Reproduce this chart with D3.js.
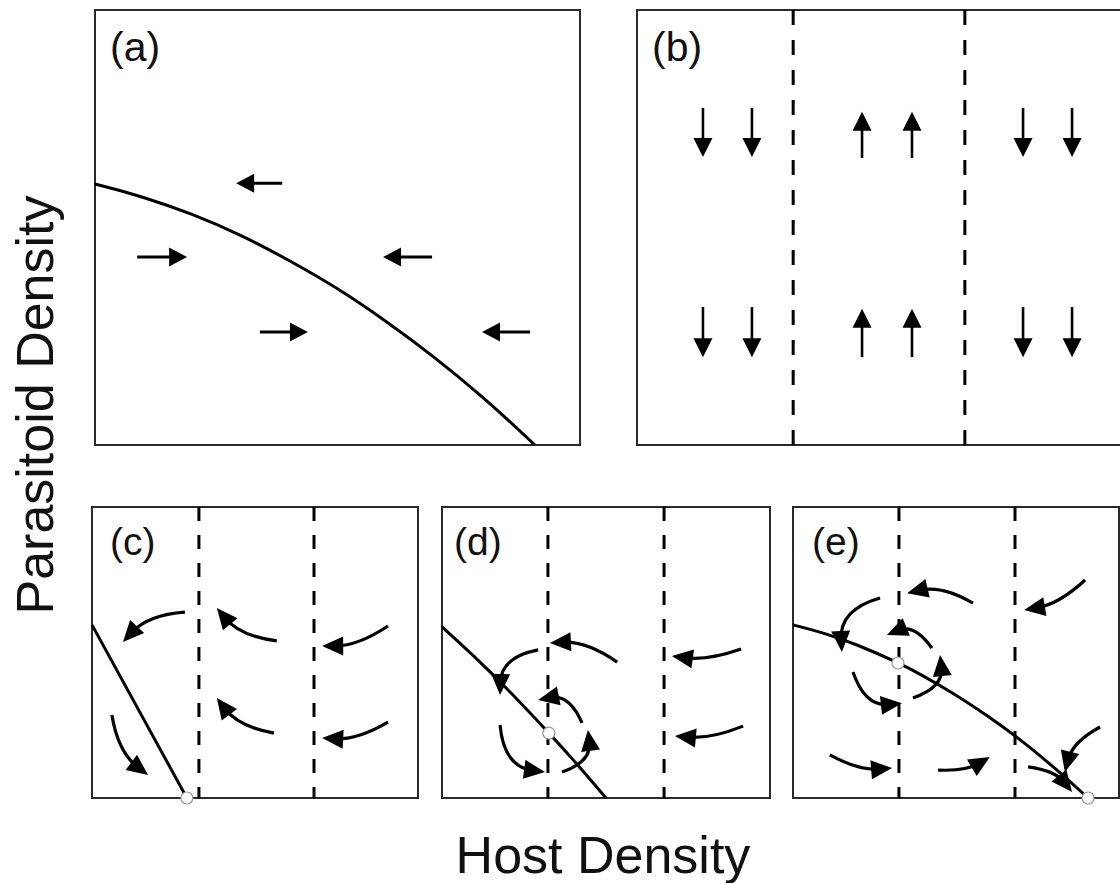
<!DOCTYPE html>
<html><head><meta charset="utf-8">
<script src="https://cdn.jsdelivr.net/npm/d3@7"></script>
<style>body{margin:0;background:#fff}</style>
</head><body>
<svg id="chart" width="1120" height="883"></svg>
<script>
// ---------- DATA (relative units: host 0-100, parasitoid 0-100) ----------
const panelLabels = ["(a)", "(b)", "(c)", "(d)", "(e)"];
const xTitle = "Host Density";
const yTitle = "Parasitoid Density";

// host nullclines [host, parasitoid]
const curveA = [[0,60.0],[10,56.9],[20,53.0],[30,48.2],[40,42.4],[50,35.9],[60,28.4],[70,20.1],[80,10.9],[90.7,0]];
const curveC = [[0,59.5],[29.1,0]];
const curveD = [[0,58.8],[10,48.4],[20,37.3],[32.6,22.3],[40,13.1],[50,0]];
const curveE = [[0,59.5],[10,56.4],[20,52.4],[32.2,46.4],[40,41.9],[50,35.3],[60,27.9],[70,19.7],[80,10.5],[90.5,0]];

// parasitoid nullclines (host values)
const dashesB = [32.2, 67.6];
const dashesC = [32.8, 68.1];
const dashesD = [32.3, 67.7];
const dashesE = [32.5, 68.1];

// equilibria [host, parasitoid]
const equilibriaC = [[29.1,0]];
const equilibriaD = [[32.6,22.3]];
const equilibriaE = [[32.2,46.4],[90.5,0]];

// direction arrows [host0, para0, host1, para1, bend]
const arrowsA = [
  [38.6,60.2,29.1,60.2,0],
  [8.7,43.2,19.0,43.2,0],
  [69.5,43.2,59.4,43.2,0],
  [34.0,26.0,43.9,26.0,0],
  [89.7,26.0,79.8,26.0,0]
];
const arrowsB = [
  [13.6,77.5,13.6,66.2,0],[23.7,77.5,23.7,66.2,0],
  [46.4,66.0,46.4,76.6,0],[56.7,66.0,56.7,76.6,0],
  [79.6,77.5,79.6,66.2,0],[89.7,77.5,89.7,66.2,0],
  [13.6,31.7,13.6,20.2,0],[23.7,31.7,23.7,20.2,0],
  [46.4,20.2,46.4,31.3,0],[56.7,20.2,56.7,31.3,0],
  [79.6,31.7,79.6,20.2,0],[89.7,31.7,89.7,20.2,0]
];
const arrowsC = [
  [28.5,63.9,9.5,53.6,0.2],
  [56.7,54.0,38.3,65.3,-0.2],
  [90.8,59.1,70.6,52.2,-0.15],
  [55.8,22.3,38.3,34.4,-0.2],
  [90.8,26.1,70.6,20.6,-0.15],
  [6.1,28.5,17.2,7.9,0.2]
];
const arrowsD = [
  [53.4,46.7,32.9,53.3,0.17],
  [91.2,51.2,70.1,48.8,-0.12],
  [91.8,24.7,71.0,21.3,-0.12],
  [29.3,50.9,17.7,35.4,0.4],
  [42.7,25.8,29.3,33.7,0.4],
  [17.7,25.1,31.4,8.9,0.4],
  [36.6,8.9,44.5,23.4,0.4]
];
const arrowsE = [
  [55.2,67.0,35.0,70.4,0.2],
  [89.6,74.9,70.9,64.6,-0.15],
  [26.7,68.7,15.0,50.2,0.4],
  [42.6,51.5,28.8,56.0,0.4],
  [18.4,43.3,33.4,32.6,0.4],
  [36.8,34.4,45.1,49.1,0.4],
  [11.3,14.8,30.4,10.3,0.15],
  [44.5,9.6,60.4,14.1,0.15],
  [94.2,24.4,83.4,8.9,0.22],
  [72.1,10.7,85.6,2.1,-0.2]
];

// ---------- LAYOUT ----------
const FONT = "'Liberation Sans', Arial, Helvetica, sans-serif";
const big = {len:18, half:9.5, w:3};
const bigB = {len:19, half:9.5, w:2.6};
const small = {len:21, half:9.5, w:3.2};
const panels = [
  {x0:95,  x1:580,  y0:10,  y1:445, label:panelLabels[0], lx:110, ly:61, fs:41, curve:curveA, dashes:[], eq:[], arrows:arrowsA, st:big, dash:"15,15"},
  {x0:637, x1:1122, y0:10,  y1:445, label:panelLabels[1], lx:652, ly:61, fs:41, curve:null, dashes:dashesB, eq:[], arrows:arrowsB, st:bigB, dash:"15,15"},
  {x0:92,  x1:418,  y0:507, y1:798, label:panelLabels[2], lx:110, ly:555, fs:39, curve:curveC, dashes:dashesC, eq:equilibriaC, arrows:arrowsC, st:small, dash:"14,14"},
  {x0:442, x1:770,  y0:507, y1:798, label:panelLabels[3], lx:454, ly:555, fs:39, curve:curveD, dashes:dashesD, eq:equilibriaD, arrows:arrowsD, st:small, dash:"14,14"},
  {x0:793, x1:1119, y0:507, y1:798, label:panelLabels[4], lx:812, ly:555, fs:39, curve:curveE, dashes:dashesE, eq:equilibriaE, arrows:arrowsE, st:small, dash:"14,14"}
];

const svg = d3.select("#chart");

function drawArrow(g, sx, sy, a, st) {
  const [x0,y0,x1,y1,bend] = a;
  const p0 = [sx(x0), sy(y0)], p2 = [sx(x1), sy(y1)];
  const cx = p2[0]-p0[0], cy = p2[1]-p0[1];
  const p1 = [(p0[0]+p2[0])/2 - bend*cy, (p0[1]+p2[1])/2 + bend*cx];
  let tx = p2[0]-p1[0], ty = p2[1]-p1[1];
  const L = Math.hypot(tx,ty); tx/=L; ty/=L;
  const base = [p2[0]-tx*st.len, p2[1]-ty*st.len];
  const end = [p2[0]-tx*st.len*0.6, p2[1]-ty*st.len*0.6];
  const p = d3.path();
  p.moveTo(p0[0], p0[1]);
  p.quadraticCurveTo(p1[0], p1[1], end[0], end[1]);
  g.append("path").attr("d", p.toString()).attr("fill","none")
    .attr("stroke","#000").attr("stroke-width", st.w);
  const nx = -ty, ny = tx;
  const h = d3.path();
  h.moveTo(p2[0], p2[1]);
  h.lineTo(base[0]+nx*st.half, base[1]+ny*st.half);
  h.lineTo(base[0]-nx*st.half, base[1]-ny*st.half);
  h.closePath();
  g.append("path").attr("d", h.toString()).attr("fill","#000");
}

panels.forEach(P => {
  const sx = d3.scaleLinear().domain([0,100]).range([P.x0, P.x1]);
  const sy = d3.scaleLinear().domain([0,100]).range([P.y1, P.y0]);
  const g = svg.append("g");
  g.append("rect").attr("x",P.x0).attr("y",P.y0)
    .attr("width",P.x1-P.x0).attr("height",P.y1-P.y0)
    .attr("fill","#fff").attr("stroke","#2a2a2a").attr("stroke-width",2);

  g.selectAll("line.dash").data(P.dashes).enter().append("line")
    .attr("x1", d=>sx(d)).attr("x2", d=>sx(d))
    .attr("y1", sy(100)).attr("y2", sy(0))
    .attr("stroke","#000").attr("stroke-width",3)
    .attr("stroke-dasharray", P.dash);

  if (P.curve) {
    const line = d3.line().x(d=>sx(d[0])).y(d=>sy(d[1]))
      .curve(P.curve.length > 2 ? d3.curveCatmullRom : d3.curveLinear);
    g.append("path").attr("d", line(P.curve)).attr("fill","none")
      .attr("stroke","#000").attr("stroke-width",3);
  }

  P.arrows.forEach(a => drawArrow(g, sx, sy, a, P.st));

  g.selectAll("circle").data(P.eq).enter().append("circle")
    .attr("cx", d=>sx(d[0])).attr("cy", d=>sy(d[1])).attr("r",6)
    .attr("fill","#fff").attr("stroke","#999").attr("stroke-width",1.2);

  g.append("text").attr("x",P.lx).attr("y",P.ly)
    .attr("font-family",FONT).attr("font-size",P.fs).attr("fill","#111")
    .text(P.label);
});

svg.append("text").attr("transform","translate(53,405) rotate(-90)")
  .attr("text-anchor","middle").attr("font-family",FONT).attr("font-size",52)
  .attr("fill","#111").text(yTitle);
svg.append("text").attr("x",603).attr("y",873)
  .attr("text-anchor","middle").attr("font-family",FONT).attr("font-size",52)
  .attr("fill","#111").text(xTitle);
</script>
</body></html>
